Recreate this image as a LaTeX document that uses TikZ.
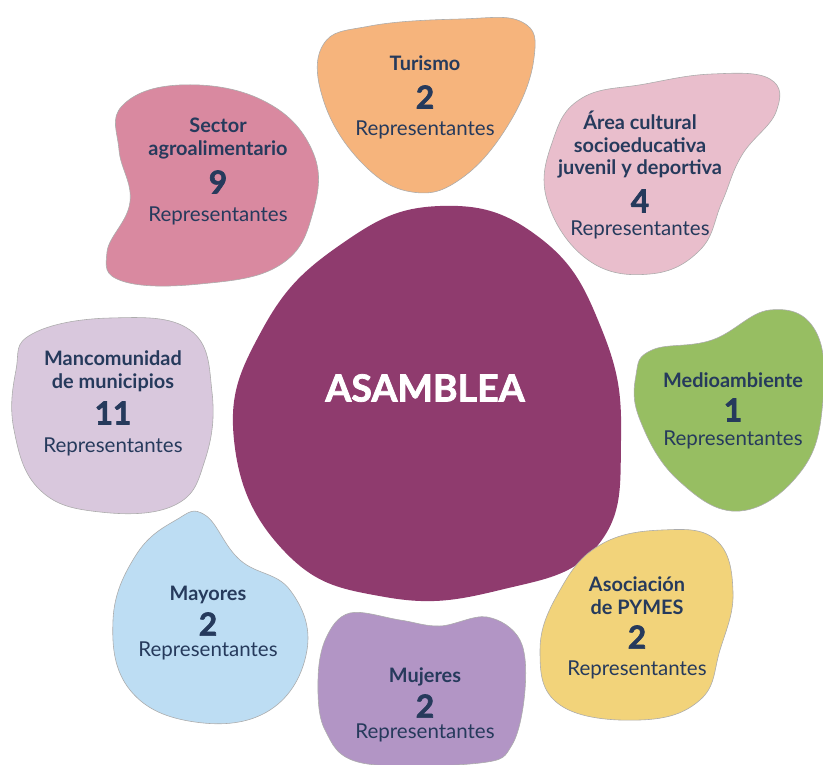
\documentclass[tikz,border=0pt]{standalone}
\usepackage{fontspec}
\setmainfont{Lato}
\newfontfamily\gruesa[BoldFeatures={FakeBold=2}]{Lato}
\usepackage{tikz}
\usetikzlibrary{positioning}
\definecolor{textoazul}{RGB}{38, 58, 92}
\definecolor{asamblea}{RGB}{143, 59, 110}
\definecolor{turismo}{RGB}{246, 180, 124}
\definecolor{agro}{RGB}{217, 137, 160}
\definecolor{cultura}{RGB}{233, 190, 204}
\definecolor{medio}{RGB}{151, 190, 98}
\definecolor{pymes}{RGB}{242, 211, 122}
\definecolor{mujeres}{RGB}{178, 149, 197}
\definecolor{mayores}{RGB}{189, 221, 243}
\definecolor{mancomun}{RGB}{217, 200, 221}

\begin{document}
\begin{tikzpicture}[x=0.03cm, y=-0.03cm,
    mancha/.style={draw=gray!65, line width=0.5pt},
    cabecera/.style={font=\bfseries\fontsize{17}{19.5}\selectfont, text=textoazul, align=center, inner sep=0pt},
    cifra/.style={font=\gruesa\bfseries\fontsize{27}{27}\selectfont, text=textoazul, inner sep=0pt},
    repr/.style={font=\fontsize{17.5}{20}\selectfont, text=textoazul, inner sep=0pt}]
    \useasboundingbox (0,0) rectangle (823,764);

    % Manchas de colores
    \fill[asamblea] plot[smooth cycle, tension=0.75] coordinates {(440,206) (540,238) (602,330) (621,440) (598,545) (500,590) (385,597) (285,552) (234,440) (262,330) (340,245)};
    \filldraw[mancha, fill=turismo] plot[smooth cycle, tension=0.7] coordinates {(323,45) (370,26) (460,19) (522,22) (534,58) (510,122) (462,178) (412,192) (362,163) (324,102)};
    \filldraw[mancha, fill=agro] plot[smooth cycle, tension=0.7] coordinates {(122,106) (180,85) (262,100) (312,150) (313,212) (280,265) (200,284) (122,281) (107,252) (130,202) (119,150)};
    \filldraw[mancha, fill=cultura] plot[smooth cycle, tension=0.7] coordinates {(582,98) (645,84) (712,74) (770,79) (776,112) (742,155) (722,202) (700,250) (650,274) (588,260) (547,200) (553,140)};
    \filldraw[mancha, fill=medio] plot[smooth cycle, tension=0.7] coordinates {(652,350) (712,340) (770,310) (815,330) (823,400) (802,470) (740,511) (678,480) (640,420) (636,375)};
    \filldraw[mancha, fill=mancomun] plot[smooth cycle, tension=0.7] coordinates {(32,334) (110,318) (190,330) (212,392) (205,460) (175,505) (100,512) (40,490) (14,430) (16,370)};
    \filldraw[mancha, fill=mayores] plot[smooth cycle, tension=0.7] coordinates {(176,520) (205,515) (240,560) (290,590) (307,650) (270,710) (195,722) (130,690) (113,620) (136,555)};
    \filldraw[mancha, fill=mujeres] plot[smooth cycle, tension=0.6] coordinates {(326,638) (350,613) (400,620) (440,626) (487,617) (520,640) (525,690) (512,745) (480,763) (362,763) (325,730) (318,680)};
    \filldraw[mancha, fill=pymes] plot[smooth cycle, tension=0.7] coordinates {(600,545) (662,530) (716,540) (733,592) (720,650) (700,700) (640,720) (560,705) (540,650) (560,590)};

    % Centro
    \node[font=\gruesa\bfseries\fontsize{32}{32}\selectfont, text=white] (asam) at (425,388) {ASAMBLEA};

    % Turismo
    \node[cifra] (turN) at (425,97) {2};
    \node[cabecera, above=12pt of turN] (turT) {Turismo};
    \node[repr, below=10pt of turN] (turR) {Representantes};

    % Sector agroalimentario
    \node[cifra] (agrN) at (218,182) {9};
    \node[cabecera, above=9pt of agrN] (agrT) {Sector\\agroalimentario};
    \node[repr, below=11pt of agrN] (agrR) {Representantes};

    % Area cultural
    \node[cifra] (culN) at (640,201) {4};
    \node[cabecera, above=9pt of culN] (culT) {Área cultural\\socioeducativa\\juvenil y deportiva};
    \node[repr, below=7pt of culN] (culR) {Representantes};

    % Medioambiente
    \node[cifra] (medN) at (733,410) {1};
    \node[cabecera, above=9pt of medN] (medT) {Medioambiente};
    \node[repr, below=8pt of medN] (medR) {Representantes};

    % Mancomunidad
    \node[cifra] (manN) at (113,413) {11};
    \node[cabecera, above=8pt of manN] (manT) {Mancomunidad\\de municipios};
    \node[repr, below=11pt of manN] (manR) {Representantes};

    % Mayores
    \node[cifra] (mayN) at (208,624) {2};
    \node[cabecera, above=7pt of mayN] (mayT) {Mayores};
    \node[repr, below=5pt of mayN] (mayR) {Representantes};

    % Mujeres
    \node[cifra] (mujN) at (425,706) {2};
    \node[cabecera, above=7pt of mujN] (mujT) {Mujeres};
    \node[repr, below=5pt of mujN] (mujR) {Representantes};

    % Asociacion de PYMES
    \node[cifra] (pymN) at (637,637) {2};
    \node[cabecera, above=9pt of pymN] (pymT) {Asociación\\de PYMES};
    \node[repr, below=10pt of pymN] (pymR) {Representantes};
\end{tikzpicture}
\end{document}
